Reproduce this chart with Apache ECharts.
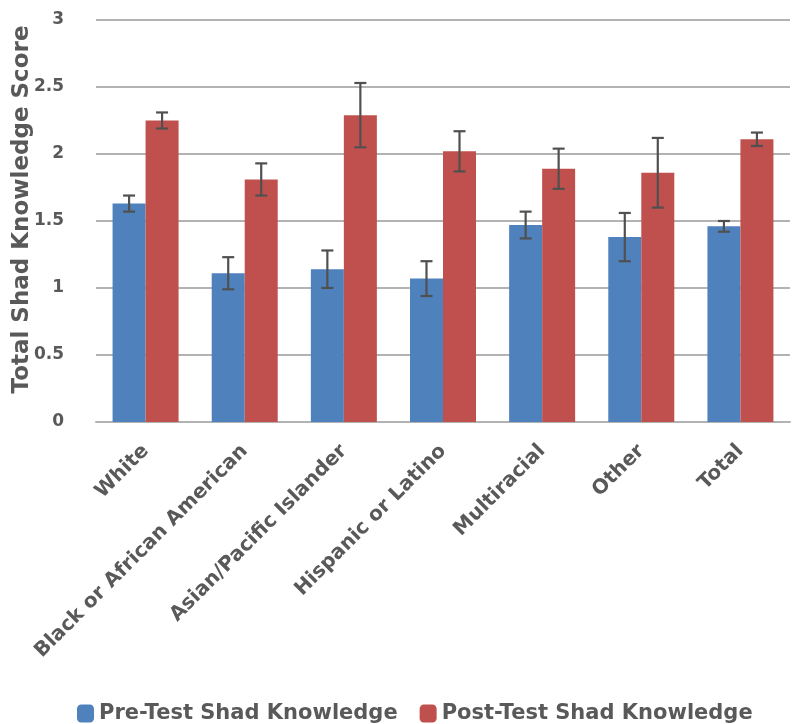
<!DOCTYPE html>
<html><head><meta charset="utf-8">
<script src="https://cdn.jsdelivr.net/npm/echarts@6/dist/echarts.min.js"></script>
<style>html,body{margin:0;padding:0;background:#fff}#c{width:794px;height:724px}</style>
</head><body><div id="c"></div>
<script>
const categories = ['White','Black or African American','Asian/Pacific Islander','Hispanic or Latino','Multiracial','Other','Total'];
const preValues = [1.63, 1.11, 1.14, 1.07, 1.47, 1.38, 1.46];
const preErrors = [0.06, 0.12, 0.14, 0.13, 0.10, 0.18, 0.04];
const postValues = [2.25, 1.81, 2.29, 2.02, 1.89, 1.86, 2.11];
const postErrors = [0.06, 0.12, 0.24, 0.15, 0.15, 0.26, 0.05];
const seriesNames = ['Pre-Test Shad Knowledge', 'Post-Test Shad Knowledge'];
const yTicks = [0, 0.5, 1, 1.5, 2, 2.5, 3];

const FONT = 'DejaVu Sans, Liberation Sans, Arial, sans-serif';
const chart = echarts.init(document.getElementById('c'));
const barW = 33;
function errSeries(vals, errs, offsetSign) {
  return {
    type: 'custom',
    z: 10,
    data: vals.map((v, i) => [i, v - errs[i], v + errs[i]]),
    renderItem: function (params, api) {
      const lo = api.coord([api.value(0), api.value(1)]);
      const hi = api.coord([api.value(0), api.value(2)]);
      const x = lo[0] + offsetSign * barW / 2;
      const cap = 6;
      const st = { stroke: '#505050', lineWidth: 2.2 };
      return { type: 'group', children: [
        { type: 'line', shape: { x1: x, y1: lo[1], x2: x, y2: hi[1] }, style: st },
        { type: 'line', shape: { x1: x - cap, y1: lo[1], x2: x + cap, y2: lo[1] }, style: st },
        { type: 'line', shape: { x1: x - cap, y1: hi[1], x2: x + cap, y2: hi[1] }, style: st }
      ]};
    }
  };
}
chart.setOption({
  animation: false,
  textStyle: { fontFamily: FONT },
  grid: { left: 96, right: 4, top: 20, bottom: 302, containLabel: false, outerBoundsMode: 'none' },
  legend: {
    data: seriesNames,
    top: 698, left: 72,
    itemWidth: 17, itemHeight: 18, itemGap: 22,
    textStyle: { fontSize: 21, fontWeight: 'bold', color: '#595959', fontFamily: FONT }
  },
  xAxis: {
    type: 'category', data: categories,
    axisLine: { show: true, lineStyle: { color: '#b3b3b3', width: 2 } },
    axisTick: { show: false },
    axisLabel: { rotate: 45, interval: 0, margin: 26, fontSize: 20, fontWeight: 'bold', color: '#595959' }
  },
  yAxis: {
    type: 'value', min: 0, max: 3, interval: 0.5,
    name: 'Total Shad Knowledge Score', nameLocation: 'middle', nameGap: 62,
    nameMoveOverlap: false,
    nameTextStyle: { fontSize: 23, fontWeight: 'bold', color: '#595959', padding: [0, 0, 0, 23] },
    axisLine: { show: false }, axisTick: { show: false },
    axisLabel: { fontSize: 17, fontWeight: 'bold', color: '#595959', margin: 32,
      formatter: v => yTicks.includes(v) ? String(v) : '' },
    splitLine: { lineStyle: { color: '#b3b3b3', width: 2 } }
  },
  series: [
    { name: seriesNames[0], type: 'bar', data: preValues, barWidth: barW, barGap: '0%',
      itemStyle: { color: '#4F81BD' } },
    { name: seriesNames[1], type: 'bar', data: postValues, barWidth: barW, barGap: '0%',
      itemStyle: { color: '#C0504D' } },
    errSeries(preValues, preErrors, -1),
    errSeries(postValues, postErrors, 1)
  ]
});
</script></body></html>
